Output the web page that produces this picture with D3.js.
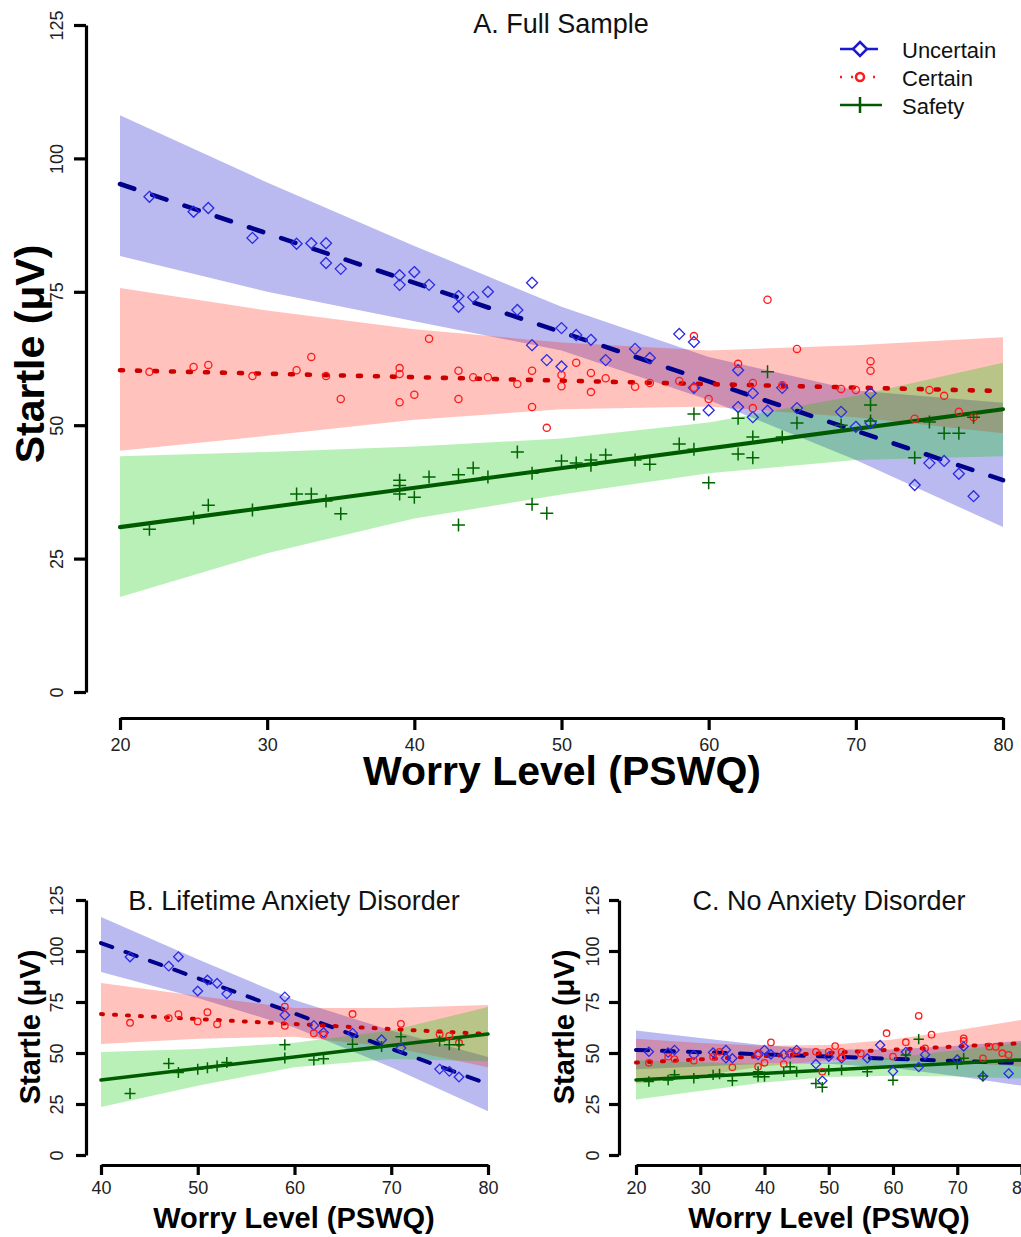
<!DOCTYPE html>
<html>
<head>
<meta charset="utf-8">
<script src="https://cdn.jsdelivr.net/npm/d3@7"></script>
<style>
  body { margin: 0; background: #fff; }
  svg { display: block; font-family: "Liberation Sans", Arial, sans-serif; }
</style>
</head>
<body>
<svg id="chart" width="1021" height="1237"></svg>
<script>
// ---- data: [worry, startle] per participant ----
const fullUncertain = [[22,92.8],[25,90.0],[26,90.7],[29,85.1],[32,84.0],[33,84.1],[34,84.1],[34,80.4],[35,79.3],[39,78.1],[39,76.3],[40,78.7],[41,76.3],[43,74.2],[43,72.2],[44,74.0],[45,75.0],[47,71.6],[48,76.7],[48,65.0],[49,62.2],[50,68.2],[50,61.0],[51,66.9],[52,66.0],[53,62.2],[55,64.3],[56,62.6],[58,67.1],[59,65.6],[59,57.0],[60,52.8],[62,60.3],[62,53.4],[63,56.0],[63,51.5],[64,52.7],[65,57.0],[66,53.2],[69,52.5],[70,49.7],[71,56.0],[71,50.4],[74,38.8],[75,42.9],[76,43.3],[77,40.9],[78,36.7]];
const fullCertain = [[22,60.0],[25,60.9],[26,61.3],[29,59.2],[32,60.3],[33,62.8],[34,59.2],[35,54.9],[39,60.7],[39,59.6],[39,54.3],[40,55.7],[41,66.2],[43,60.2],[43,54.9],[44,59.0],[45,59.0],[47,57.7],[48,60.2],[48,53.4],[49,49.5],[50,59.4],[50,57.3],[51,61.7],[52,59.8],[52,56.2],[53,58.8],[55,57.2],[56,57.9],[58,58.3],[59,66.7],[59,57.0],[60,54.9],[62,61.5],[63,57.9],[63,53.2],[64,73.5],[65,57.5],[66,64.3],[69,56.8],[70,56.6],[71,62.0],[71,60.2],[74,51.2],[75,56.6],[76,55.5],[77,52.5],[78,51.5]];
const fullSafety = [[22,30.5],[25,32.6],[26,35.0],[29,34.1],[32,37.1],[33,37.1],[34,35.8],[35,33.4],[39,39.7],[39,38.7],[39,37.1],[40,36.5],[41,40.3],[43,40.7],[43,31.3],[44,42.0],[45,40.3],[47,45.0],[48,41.0],[48,35.2],[49,33.5],[50,43.3],[51,42.9],[52,43.5],[52,42.5],[53,44.4],[55,43.5],[56,42.7],[58,46.5],[59,52.1],[59,45.5],[60,39.2],[62,51.3],[62,44.6],[63,47.8],[63,43.9],[64,60.0],[65,47.8],[66,50.4],[69,50.0],[71,53.8],[71,50.8],[74,43.9],[75,50.6],[76,48.5],[77,48.5],[78,51.5]];

const anxUncertain = [[43,97.1],[47,92.6],[48,97.2],[50,80.4],[51,85.8],[52,84.2],[53,79.0],[59,77.5],[59,68.6],[62,63.5],[63,60.0],[66,59.7],[69,56.5],[71,52.4],[75,42.1],[76,41.0],[77,38.2]];
const anxCertain = [[43,64.8],[47,67.1],[48,69.0],[50,65.5],[51,70.0],[52,64.1],[59,72.7],[59,63.3],[62,59.7],[63,59.0],[66,69.1],[71,64.3],[75,59.2],[76,58.4],[77,55.0]];
const anxSafety = [[43,30.2],[47,44.9],[48,40.5],[50,42.0],[51,42.8],[52,43.6],[53,45.3],[59,54.0],[59,47.5],[62,46.6],[63,47.2],[66,54.3],[69,53.2],[71,58.0],[75,55.9],[76,54.0],[77,54.0]];

const noUncertain = [[22,50.6],[25,50.2],[26,51.5],[29,49.0],[32,50.2],[34,51.5],[34,47.4],[35,47.4],[39,49.0],[40,51.5],[41,49.3],[43,49.3],[44,49.8],[45,51.5],[48,44.6],[49,36.4],[50,48.2],[52,47.4],[56,47.4],[58,53.9],[60,41.0],[62,50.5],[64,43.1],[65,49.2],[70,46.8],[71,53.2],[74,38.5],[78,40.0]];
const noCertain = [[22,45.2],[25,48.2],[26,47.0],[29,46.2],[32,48.2],[33,50.6],[35,43.0],[39,49.8],[39,43.3],[40,45.2],[41,55.2],[43,44.6],[44,49.3],[45,50.6],[48,50.6],[49,40.8],[50,50.6],[51,53.4],[52,50.6],[52,47.9],[55,49.8],[59,59.7],[60,48.2],[62,55.3],[64,68.2],[65,52.3],[66,59.0],[71,57.2],[71,55.9],[74,47.4],[75,53.1],[76,53.0],[77,49.9],[78,49.1]];
const noSafety = [[22,36.0],[25,36.8],[26,39.3],[29,37.6],[32,39.3],[33,39.7],[35,36.4],[39,40.8],[39,38.4],[40,38.4],[43,40.8],[44,43.3],[45,40.8],[48,35.1],[49,33.2],[50,41.7],[52,41.7],[56,40.8],[60,36.6],[62,49.0],[64,56.8],[70,44.6],[71,47.4],[74,38.7]];

// fitted lines: startle at the two ends of the worry range
const fullFit = { unc: [95.2, 39.7], cert: [60.3, 56.4], safe: [30.9, 53.0] };
const anxFit  = { unc: [103.9, 34.8], cert: [69.1, 59.3], safe: [36.8, 59.3] };
const noFit   = { unc: [51.5, 45.0], cert: [45.3, 54.8], safe: [36.8, 46.6] };

// confidence bands (lower / upper) at the band x positions
const fullBandX = [20, 30, 40, 50, 60, 70, 80];
const fullUncLo  = [81.7, 75.0, 69.5, 64.0, 54.7, 43.5, 30.9];
const fullUncHi  = [108.1, 95.5, 83.6, 72.2, 62.8, 56.5, 54.2];
const fullCertLo = [45.2, 48.0, 51.0, 53.0, 53.5, 51.5, 48.5];
const fullCertHi = [75.7, 71.5, 68.0, 65.5, 64.0, 65.0, 66.5];
const fullSafeLo = [17.8, 26.0, 32.5, 37.0, 41.0, 43.5, 44.2];
const fullSafeHi = [44.2, 45.0, 46.0, 47.5, 50.5, 55.5, 61.7];

const anxBandX = [40, 50, 60, 70, 80];
const anxUncLo  = [89.7, 77.0, 62.5, 43.0, 21.5];
const anxUncHi  = [116.7, 96.0, 76.0, 61.0, 48.0];
const anxCertLo = [54.4, 57.0, 58.0, 53.0, 43.0];
const anxCertHi = [84.3, 78.0, 72.0, 72.0, 73.5];
const anxSafeLo = [23.5, 34.0, 43.0, 47.0, 46.0];
const anxSafeHi = [50.5, 52.0, 55.0, 61.0, 72.5];

const noBandX = [20, 30, 40, 50, 60, 70, 80];
const noUncLo  = [42.0, 43.4, 44.8, 44.7, 42.7, 38.6, 34.0];
const noUncHi  = [61.0, 57.4, 53.8, 51.7, 51.7, 53.6, 56.0];
const noCertLo = [35.0, 38.9, 43.5, 46.3, 46.6, 45.2, 43.4];
const noCertHi = [57.0, 54.9, 53.5, 53.9, 56.6, 61.2, 66.2];
const noSafeLo = [27.2, 31.4, 35.6, 38.2, 38.8, 38.5, 37.5];
const noSafeHi = [46.4, 45.4, 44.6, 45.2, 47.8, 51.5, 55.1];

const yTicks = [0, 25, 50, 75, 100, 125];
const fullXTicks = [20, 30, 40, 50, 60, 70, 80];
const anxXTicks = [40, 50, 60, 70, 80];
const conditions = ["Uncertain", "Certain", "Safety"];

// ---- styles ----
const col = {
  unc:  { band: "rgba(0,0,200,0.27)",  line: "#00008b", pt: "#2a2ae6" },
  cert: { band: "rgba(255,20,0,0.26)", line: "#cc0000", pt: "#ff1a1a" },
  safe: { band: "rgba(0,200,0,0.28)",  line: "#005a00", pt: "#006400" }
};

const svg = d3.select("#chart");

function drawPanel(p) {
  const x = d3.scaleLinear().domain(p.xDomain).range(p.xRange);
  const y = d3.scaleLinear().domain([0, 125]).range(p.yRange);
  const g = svg.append("g");

  // bands
  const area = d3.area().x(d => x(d[0])).y0(d => y(d[1])).y1(d => y(d[2]));
  ["unc", "cert", "safe"].forEach(k => {
    const rows = p.bandX.map((v, i) => [v, p.bands[k][0][i], p.bands[k][1][i]]);
    g.append("path").datum(rows).attr("d", area).attr("fill", col[k].band);
  });

  // fitted lines
  const dash = { unc: p.big ? "15,19" : "12,14", cert: p.big ? "3,14" : "2,11", safe: null };
  ["unc", "cert", "safe"].forEach(k => {
    g.append("line")
      .attr("x1", x(p.xDomain[0])).attr("x2", x(p.xDomain[1]))
      .attr("y1", y(p.fit[k][0])).attr("y2", y(p.fit[k][1]))
      .attr("stroke", col[k].line).attr("stroke-width", k === "safe" ? p.lw - 0.5 : p.lw)
      .attr("stroke-linecap", "round")
      .attr("stroke-dasharray", dash[k]);
  });

  // points
  const s = p.sym;
  g.selectAll(null).data(p.pts.unc).join("path")
    .attr("transform", d => `translate(${x(d[0])},${y(d[1])})`)
    .attr("d", `M0,${-s.d}L${s.d},0L0,${s.d}L${-s.d},0Z`)
    .attr("fill", "none").attr("stroke", col.unc.pt).attr("stroke-width", 1.3);
  g.selectAll(null).data(p.pts.cert).join("circle")
    .attr("cx", d => x(d[0])).attr("cy", d => y(d[1])).attr("r", s.r)
    .attr("fill", "none").attr("stroke", col.cert.pt).attr("stroke-width", 1.3);
  g.selectAll(null).data(p.pts.safe).join("path")
    .attr("transform", d => `translate(${x(d[0])},${y(d[1])})`)
    .attr("d", `M${-s.p},0H${s.p}M0,${-s.p}V${s.p}`)
    .attr("stroke", col.safe.pt).attr("stroke-width", 1.5);

  // axes
  const xAxis = g.append("g").attr("transform", `translate(0,${p.xAxisY})`)
    .call(d3.axisBottom(x).tickValues(p.xTicks).tickSizeInner(p.tick).tickSizeOuter(0).tickPadding(p.xPad));
  const yAxis = g.append("g").attr("transform", `translate(${p.yAxisX},0)`)
    .call(d3.axisLeft(y).tickValues(yTicks).tickSizeInner(p.tick).tickSizeOuter(0));
  [xAxis, yAxis].forEach(a => {
    a.select(".domain").attr("stroke", "#000").attr("stroke-width", 3.2);
    a.selectAll(".tick line").attr("stroke", "#000").attr("stroke-width", 3.2);
    a.selectAll("text").attr("fill", "#222").style("font-size", p.tickFont + "px")
      .style("font-family", '"Liberation Sans", Arial, sans-serif');
  });
  yAxis.selectAll(".tick text")
    .attr("transform", "rotate(-90)").attr("x", 0).attr("y", -p.yLabOff).attr("dy", 0)
    .style("text-anchor", "middle");

  // titles
  g.append("text").attr("x", p.titleX).attr("y", p.titleY).attr("text-anchor", "middle")
    .style("font-size", p.titleFont + "px").attr("fill", "#111").text(p.title);
  g.append("text").attr("x", p.xTitleX).attr("y", p.xTitleY).attr("text-anchor", "middle")
    .style("font-size", p.axisFont + "px").style("font-weight", "bold").attr("fill", "#000")
    .text("Worry Level (PSWQ)");
  g.append("text").attr("transform", `translate(${p.yTitleX},${p.yTitleY}) rotate(-90)`)
    .attr("text-anchor", "middle")
    .style("font-size", p.axisFont + "px").style("font-weight", "bold").attr("fill", "#000")
    .text("Startle (\u03bcV)");
}

drawPanel({
  xDomain: [20, 80], xRange: [120, 1003], yRange: [692, 25],
  xAxisY: 718, yAxisX: 86, xTicks: fullXTicks, tick: 12, xPad: 8, tickFont: 18, yLabOff: 23,
  bandX: fullBandX,
  bands: { unc: [fullUncLo, fullUncHi], cert: [fullCertLo, fullCertHi], safe: [fullSafeLo, fullSafeHi] },
  fit: fullFit, lw: 4.6, big: true,
  pts: { unc: fullUncertain, cert: fullCertain, safe: fullSafety },
  sym: { d: 5.5, r: 3.6, p: 6.5 },
  title: "A. Full Sample", titleX: 561, titleY: 33, titleFont: 27,
  xTitleX: 562, xTitleY: 785, yTitleX: 44, yTitleY: 354, axisFont: 41
});

drawPanel({
  xDomain: [40, 80], xRange: [101, 488], yRange: [1155, 900],
  xAxisY: 1165, yAxisX: 86, xTicks: anxXTicks, tick: 10, xPad: 6, tickFont: 18, yLabOff: 23,
  bandX: anxBandX,
  bands: { unc: [anxUncLo, anxUncHi], cert: [anxCertLo, anxCertHi], safe: [anxSafeLo, anxSafeHi] },
  fit: anxFit, lw: 4, big: false,
  pts: { unc: anxUncertain, cert: anxCertain, safe: anxSafety },
  sym: { d: 4.8, r: 3.3, p: 5.5 },
  title: "B. Lifetime Anxiety Disorder", titleX: 294, titleY: 910, titleFont: 27,
  xTitleX: 294, xTitleY: 1228, yTitleX: 40, yTitleY: 1027, axisFont: 29
});

drawPanel({
  xDomain: [20, 80], xRange: [636, 1021.5], yRange: [1155, 900],
  xAxisY: 1165, yAxisX: 619, xTicks: fullXTicks, tick: 10, xPad: 6, tickFont: 18, yLabOff: 20,
  bandX: noBandX,
  bands: { unc: [noUncLo, noUncHi], cert: [noCertLo, noCertHi], safe: [noSafeLo, noSafeHi] },
  fit: noFit, lw: 4, big: false,
  pts: { unc: noUncertain, cert: noCertain, safe: noSafety },
  sym: { d: 4.6, r: 3.2, p: 5.2 },
  title: "C. No Anxiety Disorder", titleX: 829, titleY: 910, titleFont: 27,
  xTitleX: 829, xTitleY: 1228, yTitleX: 574, yTitleY: 1027, axisFont: 29
});

// legend (panel A)
const legend = svg.append("g").attr("transform", "translate(840,49)");
const legKeys = ["unc", "cert", "safe"];
legKeys.forEach((k, i) => {
  const row = legend.append("g").attr("transform", `translate(0,${i * 28})`);
  row.append("line").attr("x1", 0).attr("x2", k === "safe" ? 42 : 38).attr("y1", 0).attr("y2", 0)
    .attr("stroke", k === "cert" ? col.cert.pt : k === "unc" ? "#1a1ad0" : col.safe.line)
    .attr("stroke-width", 2.5)
    .attr("stroke-dasharray", k === "cert" ? "2,9" : null);
  if (k === "unc") row.append("path").attr("d", "M20,-7L27,0L20,7L13,0Z")
    .attr("fill", "#fff").attr("stroke", "#1a1ad0").attr("stroke-width", 2.5);
  if (k === "cert") row.append("circle").attr("cx", 20).attr("cy", 0).attr("r", 4)
    .attr("fill", "#fff").attr("stroke", col.cert.pt).attr("stroke-width", 2.5);
  if (k === "safe") row.append("line").attr("x1", 20).attr("x2", 20).attr("y1", -8).attr("y2", 8)
    .attr("stroke", col.safe.line).attr("stroke-width", 2.5);
  row.append("text").attr("x", 62).attr("y", 9).style("font-size", "22px").attr("fill", "#111")
    .text(conditions[i]);
});
</script>
</body>
</html>
